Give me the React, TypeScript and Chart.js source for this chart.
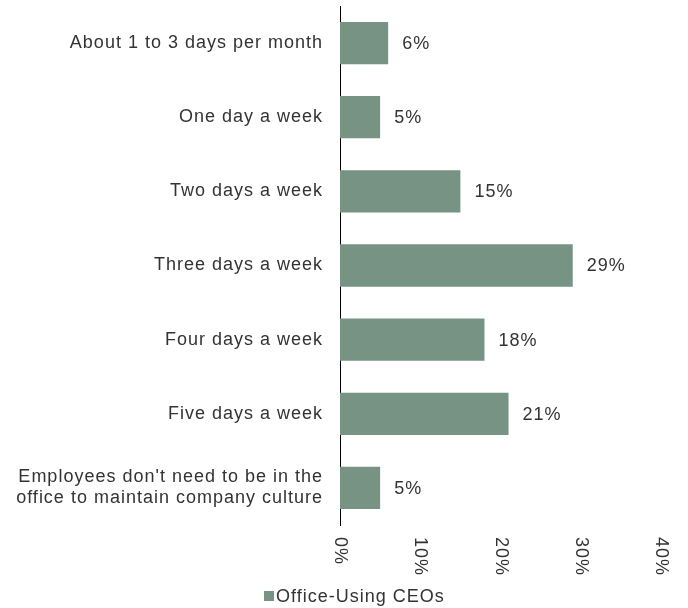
import React, { useEffect, useRef } from "react";
import { Chart, registerables } from "chart.js";

Chart.register(...registerables);

const categories: (string | string[])[] = [
  "About 1 to 3 days per month",
  "One day a week",
  "Two days a week",
  "Three days a week",
  "Four days a week",
  "Five days a week",
  ["Employees don't need to be in the", "office to maintain company culture"],
];
const values = [6, 5, 15, 29, 18, 21, 5];
const xTickValues = [0, 10, 20, 30, 40];
const seriesName = "Office-Using CEOs";

const FONT_FAMILY = "'Liberation Sans', Arial, Helvetica, sans-serif";
const FONT_SIZE = 18;
const TEXT_COLOR = "#333333";
const BAR_COLOR = "#769384";
const LETTER_SPACING = "1px";

const spacingPlugin = {
  id: "spacing",
  beforeUpdate(chart: any) {
    chart.ctx.letterSpacing = LETTER_SPACING;
  },
  beforeLayout(chart: any) {
    chart.ctx.letterSpacing = LETTER_SPACING;
  },
  beforeDraw(chart: any) {
    chart.ctx.letterSpacing = LETTER_SPACING;
  },
};

const xLabelPlugin = {
  id: "xLabels",
  afterDraw(chart: any) {
    const ctx = chart.ctx;
    const xs = chart.scales.x;
    ctx.save();
    ctx.letterSpacing = LETTER_SPACING;
    ctx.font = `${FONT_SIZE}px ${FONT_FAMILY}`;
    ctx.fillStyle = TEXT_COLOR;
    ctx.textAlign = "left";
    ctx.textBaseline = "middle";
    xTickValues.forEach((v) => {
      const px = xs.getPixelForValue(v);
      ctx.save();
      ctx.translate(px, xs.top + 12);
      ctx.rotate(Math.PI / 2);
      ctx.fillText(`${v}%`, 0, 0);
      ctx.restore();
    });
    ctx.restore();
  },
};

const legendPlugin = {
  id: "customLegend",
  afterDraw(chart: any) {
    const ctx = chart.ctx;
    ctx.save();
    ctx.letterSpacing = LETTER_SPACING;
    ctx.font = `${FONT_SIZE}px ${FONT_FAMILY}`;
    const boxX = 264;
    const cy = 596;
    ctx.fillStyle = BAR_COLOR;
    ctx.fillRect(boxX, cy - 5, 10, 10);
    ctx.fillStyle = TEXT_COLOR;
    ctx.textAlign = "left";
    ctx.textBaseline = "middle";
    ctx.fillText(chart.data.datasets[0].label, boxX + 12, cy + 1);
    ctx.restore();
  },
};

const valueLabelPlugin = {
  id: "valueLabels",
  afterDatasetsDraw(chart: any) {
    const ctx = chart.ctx;
    const meta = chart.getDatasetMeta(0);
    ctx.save();
    ctx.letterSpacing = LETTER_SPACING;
    ctx.font = `${FONT_SIZE}px ${FONT_FAMILY}`;
    ctx.fillStyle = TEXT_COLOR;
    ctx.textAlign = "left";
    ctx.textBaseline = "middle";
    meta.data.forEach((bar: any, i: number) => {
      ctx.fillText(`${values[i]}%`, bar.x + 14, bar.y + 1);
    });
    ctx.restore();
  },
};

export default function App() {
  const canvasRef = useRef<HTMLCanvasElement | null>(null);

  useEffect(() => {
    document.body.style.margin = "0";
    const canvas = canvasRef.current;
    if (!canvas) return;
    const chart = new Chart(canvas, {
      type: "bar",
      data: {
        labels: categories,
        datasets: [
          {
            label: seriesName,
            data: values,
            backgroundColor: BAR_COLOR,
            borderWidth: 0,
            categoryPercentage: 1,
            barPercentage: 0.57,
          },
        ],
      },
      options: {
        indexAxis: "y",
        responsive: true,
        maintainAspectRatio: false,
        animation: false,
        layout: { padding: { top: 6, right: 27, left: 0, bottom: 33 } },
        plugins: {
          tooltip: { enabled: false },
          legend: { display: false },
        },
        scales: {
          x: {
            min: 0,
            max: 40,
            ticks: { display: false, stepSize: 10 },
            grid: { display: false, drawTicks: false },
            border: { display: false },
            afterFit: (s: any) => {
              s.height = 50;
              s.paddingLeft = 0;
              s.paddingRight = 0;
            },
          },
          y: {
            grid: { display: false, drawTicks: false },
            border: { display: true, color: "#000000", width: 1 },
            ticks: {
              color: TEXT_COLOR,
              padding: 17,
              font: { family: FONT_FAMILY, size: FONT_SIZE, lineHeight: 1.17 },
            },
            afterFit: (s: any) => {
              s.width = 340;
              s.paddingTop = 0;
              s.paddingBottom = 0;
            },
          },
        },
      },
      plugins: [spacingPlugin, xLabelPlugin, valueLabelPlugin, legendPlugin],
    } as any);
    return () => chart.destroy();
  }, []);

  return (
    <div style={{ width: 688, height: 608, position: "relative" }}>
      <canvas ref={canvasRef} />
    </div>
  );
}
